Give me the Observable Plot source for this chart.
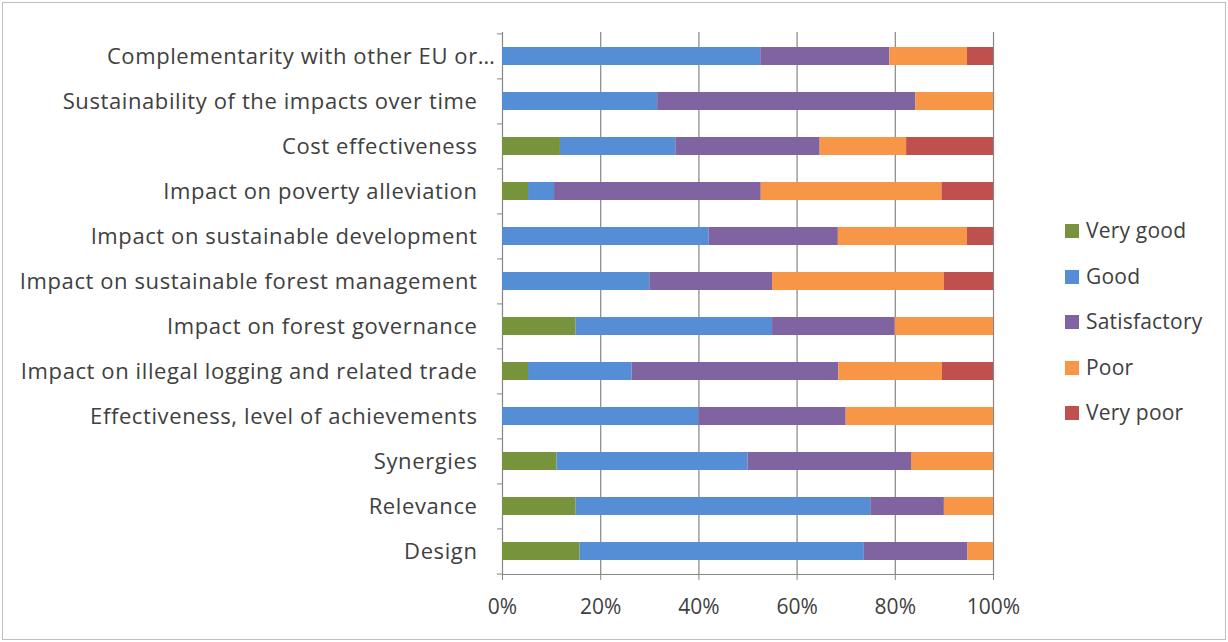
<!DOCTYPE html>
<html>
<head>
<meta charset="utf-8">
<script src="https://cdn.jsdelivr.net/npm/d3@7"></script>
<script src="https://cdn.jsdelivr.net/npm/@observablehq/plot@0.6"></script>
<style>
  html, body { margin: 0; padding: 0; background: #fff; }
  #wrap { position: relative; width: 1228px; height: 642px; font-family: "Open Sans", sans-serif; }
  #border { position: absolute; left: 2px; top: 2px; width: 1222px; height: 636px; border: 1px solid #bfbfbf; pointer-events: none; }
  #legend { position: absolute; left: 1065px; top: 216px; color: #404040; font-size: 21px; letter-spacing: 0.2px; }
  .item { height: 45.5px; display: flex; align-items: flex-start; line-height: 28px; }
  .sw { width: 14px; height: 14px; margin-top: 8px; margin-right: 7px; }
  .ylab text { letter-spacing: 0.6px; }
</style>
</head>
<body>
<div id="wrap"><div id="chart"></div><div id="legend"></div><div id="border"></div></div>
<script>
const categories = [
  "Complementarity with other EU or…",
  "Sustainability of the impacts over time",
  "Cost effectiveness",
  "Impact on poverty alleviation",
  "Impact on sustainable development",
  "Impact on sustainable forest management",
  "Impact on forest governance",
  "Impact on illegal logging and related trade",
  "Effectiveness, level of achievements",
  "Synergies",
  "Relevance",
  "Design"
];
const seriesNames = ["Very good", "Good", "Satisfactory", "Poor", "Very poor"];
const seriesColors = ["#77933C", "#558ED5", "#8064A2", "#F79646", "#C0504D"];
const veryGood     = [0,    0,    11.8, 5.3,  0,    0,  15, 5.3,  0,  11.1, 15, 15.8];
const good         = [52.6, 31.6, 23.5, 5.3,  42.1, 30, 40, 21.1, 40, 38.9, 60, 57.9];
const satisfactory = [26.3, 52.6, 29.4, 42.1, 26.3, 25, 25, 42.1, 30, 33.3, 15, 21.1];
const poor         = [15.8, 15.8, 17.6, 36.8, 26.3, 35, 20, 21.1, 30, 16.7, 10, 5.2];
const veryPoor     = [5.3,  0,    17.7, 10.5, 5.3,  10, 0,  10.4, 0,  0,    0,  0];
const xTicks = [0, 20, 40, 60, 80, 100];

const seriesValues = [veryGood, good, satisfactory, poor, veryPoor];
const rows = [];
seriesNames.forEach((s, si) => {
  categories.forEach((c, ci) => {
    rows.push({category: c, series: s, value: seriesValues[si][ci]});
  });
});

const marginTop = 32, marginBottom = 68, H = 642;
const step = (H - marginTop - marginBottom) / categories.length;

const chart = Plot.plot({
  width: 1228,
  height: 642,
  marginLeft: 502,
  marginRight: 235,
  marginTop,
  marginBottom,
  style: {fontFamily: "'Open Sans', sans-serif", fontSize: "20px", color: "#404040", background: "transparent", overflow: "visible"},
  x: {domain: [0, 100], label: null},
  y: {domain: categories, paddingInner: 0.6, paddingOuter: 0.3, label: null},
  color: {domain: seriesNames, range: seriesColors},
  marks: [
    Plot.ruleX(xTicks, {stroke: "#868686", strokeWidth: 1.2}),
    Plot.barX(rows, Plot.stackX({x: "value", y: "category", fill: "series", order: seriesNames})),
    Plot.frame({anchor: "bottom", stroke: "#868686", strokeWidth: 1.2}),
    Plot.ruleY(categories, {y: d => d, x1: 0, x2: 0, insetLeft: -5, dy: -step / 2, stroke: "#868686"}),
    Plot.ruleY(categories.slice(-1), {y: d => d, x1: 0, x2: 0, insetLeft: -5, dy: step / 2, stroke: "#868686"}),
    Plot.axisX({ticks: xTicks, tickFormat: d => d + "%", tickSize: 6, tickPadding: 19, stroke: "#868686", fill: "#404040", fontSize: 21, label: null}),
    Plot.axisY(categories.slice(1), {tickSize: 0, tickPadding: 25, fill: "#404040", fontSize: 22, textOverflow: null, label: null, className: "ylab"}),
    Plot.axisY(categories.slice(0, 1), {tickSize: 0, tickPadding: 7, fill: "#404040", fontSize: 22, textOverflow: null, label: null, className: "ylab"})
  ]
});
document.getElementById("chart").appendChild(chart);

const legend = document.getElementById("legend");
seriesNames.forEach((s, i) => {
  const item = document.createElement("div");
  item.className = "item";
  const sw = document.createElement("div");
  sw.className = "sw";
  sw.style.background = seriesColors[i];
  const t = document.createElement("span");
  t.textContent = s;
  item.appendChild(sw);
  item.appendChild(t);
  legend.appendChild(item);
});
</script>
</body>
</html>
